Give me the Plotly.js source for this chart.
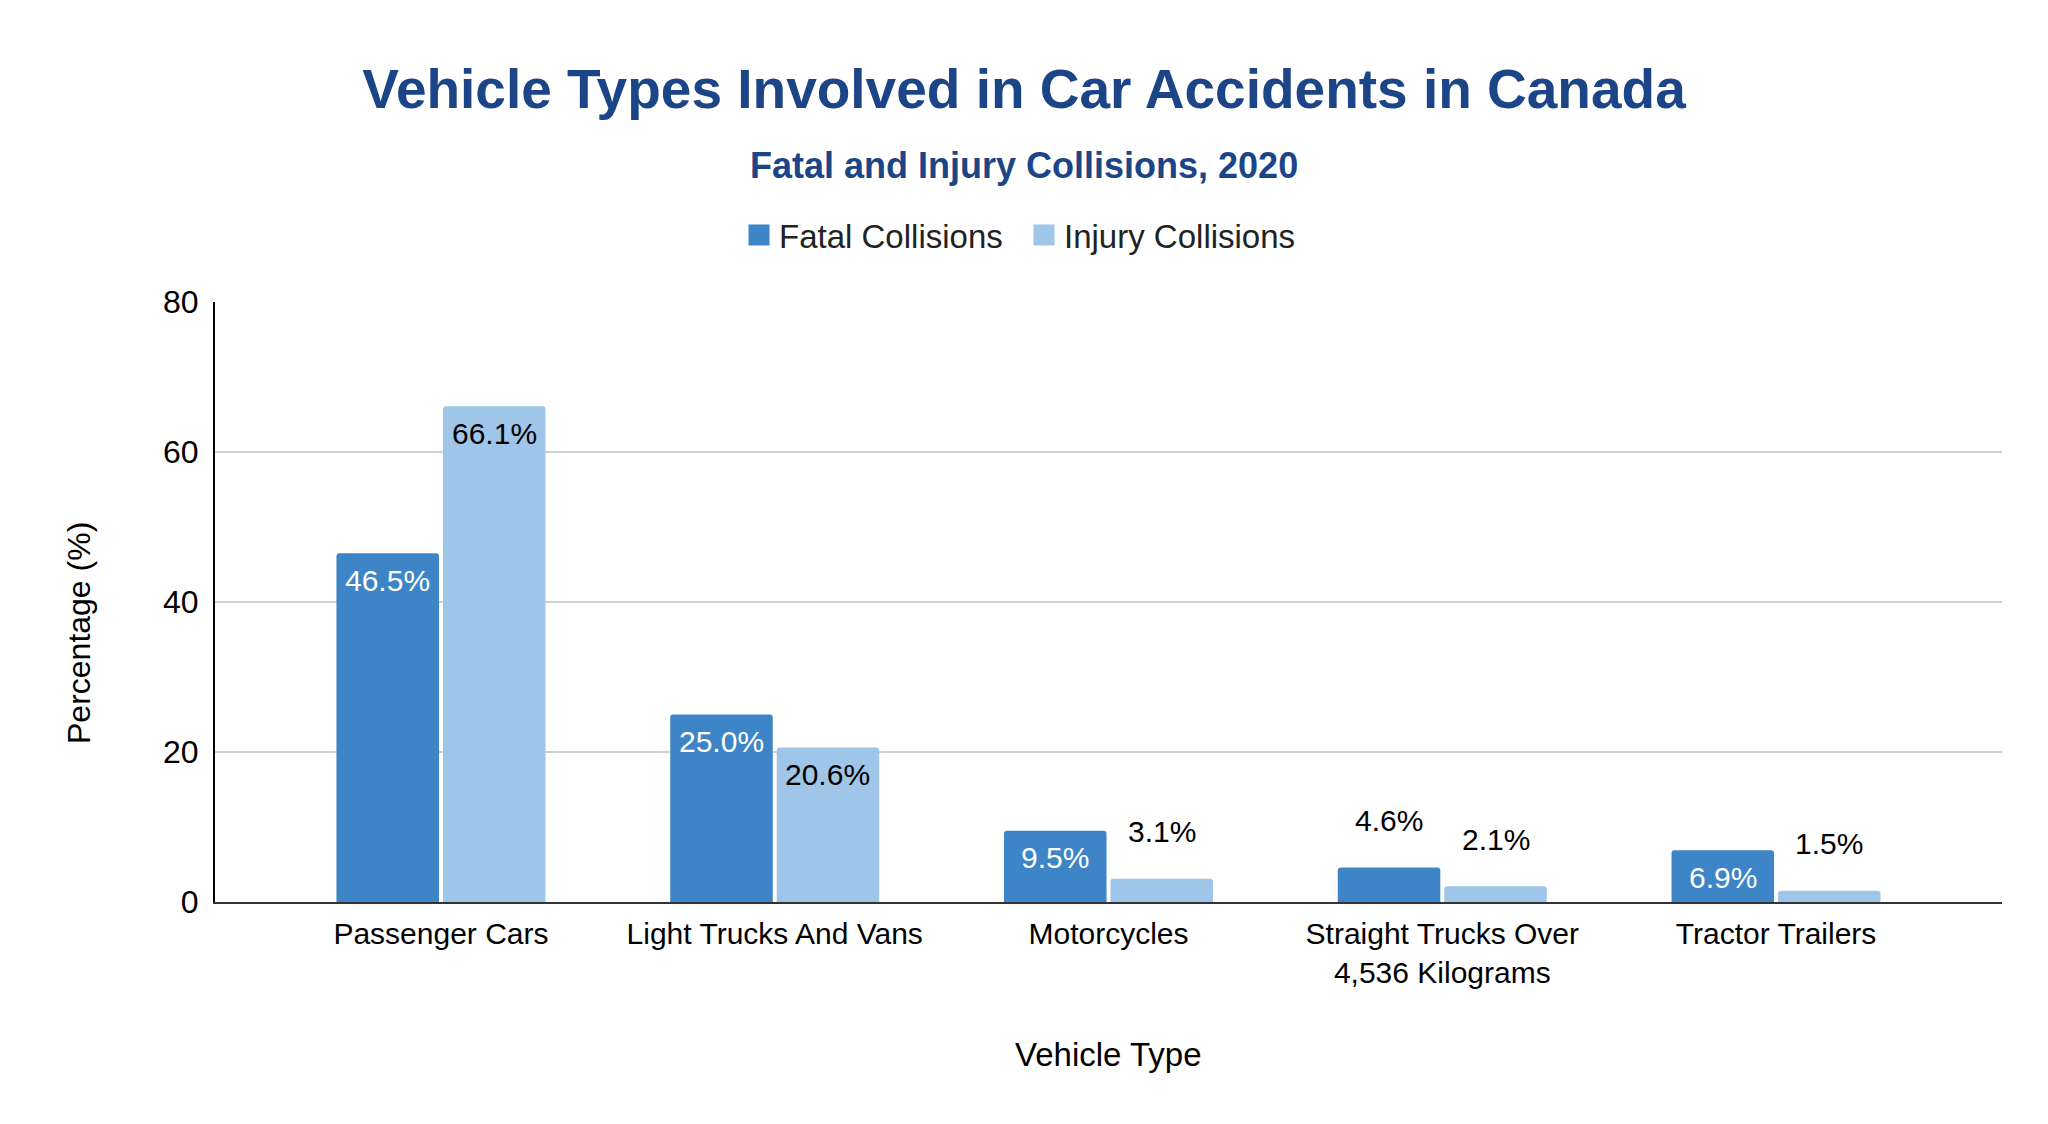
<!DOCTYPE html>
<html>
<head>
<meta charset="utf-8">
<script src="https://cdn.plot.ly/plotly-3.0.1.min.js"></script>
<style>
  html, body { margin: 0; padding: 0; background: #fff; }
  #chart { width: 2048px; height: 1124px; }
</style>
</head>
<body>
<div id="chart"></div>
<script>
// vehicle categories (x axis)
const categories = [
  "Passenger Cars",
  "Light Trucks And Vans",
  "Motorcycles",
  "Straight Trucks Over<br>4,536 Kilograms",
  "Tractor Trailers",
];
const seriesNames = ["Fatal Collisions", "Injury Collisions"];
const fatalPct = [46.5, 25.0, 9.5, 4.6, 6.9];
const injuryPct = [66.1, 20.6, 3.1, 2.1, 1.5];
// where each value label sits: in the bar top or above it
const fatalLabelSide = ["in", "in", "in", "out", "in"];
const injuryLabelSide = ["in", "in", "out", "out", "out"];

const FONT = "Liberation Sans, Arial, sans-serif";
const FATAL = "#3d85c6";
const INJURY = "#9fc5e8";
const NAVY = "#1c4587";

const BARGAP = 0.362;
const slot = (1 - BARGAP) / 2; // one bar's share of the category band

// plot box in page pixels, used to place the free texts
const PL = 215, PR = 2002, PT = 302, PB = 902;
const px = (x) => (x - PL) / (PR - PL);
const py = (y) => (PB - y) / (PB - PT);

function barTrace(name, values, color) {
  return {
    x: categories,
    y: values,
    type: "bar",
    name,
    marker: { color, cornerradius: 3 },
    showlegend: false,
    hoverinfo: "skip",
  };
}

// legend-only twins so the legend squares can be drawn bigger than the bar icon
function legendTrace(name, color) {
  return {
    x: [null],
    y: [null],
    type: "scatter",
    mode: "markers",
    name,
    marker: { symbol: "square", size: 16, color, line: { color, width: 5 } },
    hoverinfo: "skip",
  };
}

// value labels, pinned to the bar centres through the axis scale
function labels(values, sides, offset, insideColor) {
  return values.map((v, i) => ({
    x: i + offset,
    y: v,
    xref: "x",
    yref: "y",
    text: v.toFixed(1) + "%",
    showarrow: false,
    yanchor: "middle",
    yshift: sides[i] === "in" ? -27 : 47,
    font: { family: FONT, size: 30, color: sides[i] === "in" ? insideColor : "#000" },
  }));
}

const traces = [
  barTrace(seriesNames[0], fatalPct, FATAL),
  barTrace(seriesNames[1], injuryPct, INJURY),
  legendTrace(seriesNames[0], FATAL),
  legendTrace(seriesNames[1], INJURY),
];

const layout = {
  width: 2048,
  height: 1124,
  paper_bgcolor: "#fff",
  plot_bgcolor: "#fff",
  font: { family: FONT, color: "#000" },
  margin: { l: PL, r: 2048 - PR, t: PT, b: 1124 - PB, autoexpand: false },
  barmode: "group",
  bargap: BARGAP,
  bargroupgap: 0.037,
  title: {
    text: "<b>Vehicle Types Involved in Car Accidents in Canada</b>",
    font: { family: FONT, size: 55, color: NAVY },
    x: 0.5,
    xanchor: "center",
    xref: "container",
    y: 1 - 89 / 1124,
    yanchor: "middle",
    yref: "container",
  },
  showlegend: true,
  legend: {
    orientation: "h",
    x: px(1024),
    xanchor: "center",
    y: py(235),
    yanchor: "middle",
    font: { family: FONT, size: 33, color: "#222" },
    traceorder: "normal",
    entrywidth: 240,
  },
  xaxis: {
    type: "category",
    range: [-0.677, 4.677],
    showline: true,
    linecolor: "#333",
    linewidth: 2,
    ticks: "",
    tickangle: 0,
    ticklabelstandoff: 4,
    tickfont: { family: FONT, size: 30, color: "#000" },
    showgrid: false,
    zeroline: false,
    fixedrange: true,
  },
  yaxis: {
    range: [0, 80],
    dtick: 20,
    showline: true,
    linecolor: "#000",
    linewidth: 2,
    showgrid: true,
    gridcolor: "#d0d0d0",
    gridwidth: 2,
    zeroline: false,
    ticks: "",
    ticklabelstandoff: 8,
    tickfont: { family: FONT, size: 32, color: "#000" },
    fixedrange: true,
  },
  annotations: [
    {
      xref: "paper",
      yref: "paper",
      x: px(1024),
      y: py(165),
      xanchor: "center",
      yanchor: "middle",
      showarrow: false,
      text: "<b>Fatal and Injury Collisions, 2020</b>",
      font: { family: FONT, size: 36, color: NAVY },
    },
    {
      xref: "paper",
      yref: "paper",
      x: 0.5,
      y: py(1054),
      xanchor: "center",
      yanchor: "middle",
      showarrow: false,
      text: "Vehicle Type",
      font: { family: FONT, size: 33, color: "#000" },
    },
    {
      xref: "paper",
      yref: "paper",
      x: px(79),
      y: py(633),
      xanchor: "center",
      yanchor: "middle",
      textangle: -90,
      showarrow: false,
      text: "Percentage (%)",
      font: { family: FONT, size: 32, color: "#000" },
    },
    ...labels(fatalPct, fatalLabelSide, -slot / 2, "#fff"),
    ...labels(injuryPct, injuryLabelSide, slot / 2, "#000"),
  ],
};

Plotly.newPlot("chart", traces, layout, { displayModeBar: false, staticPlot: true });
</script>
</body>
</html>
